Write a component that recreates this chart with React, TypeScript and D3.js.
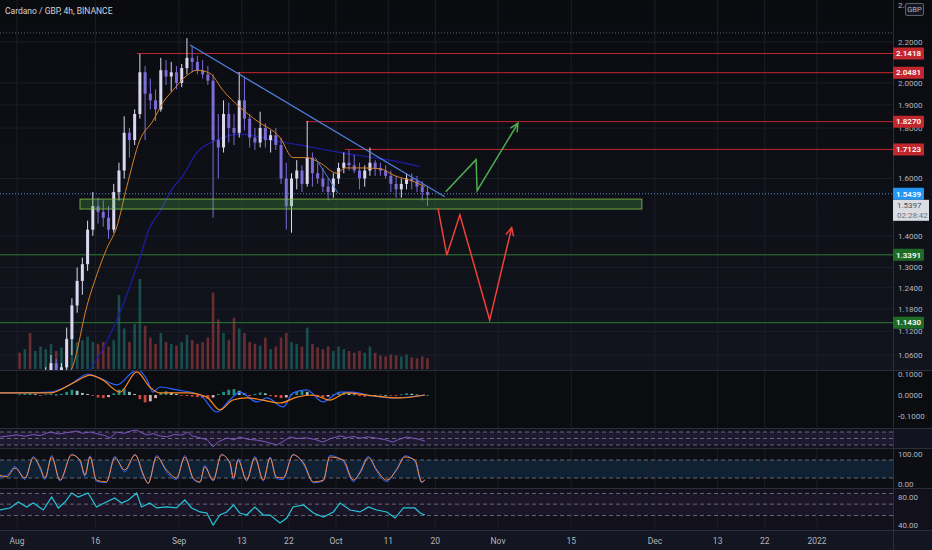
import React from "react";
import * as d3 from "d3";

const W = 932;
const H = 550;
const AXIS_X = 893;

const START = new Date(2021, 7, 1);
const END = new Date(2022, 0, 1);
const dayAt = (d: number) => new Date(START.getTime() + d * 864e5);

// x axis ticks
const TICK_DATES = [
  new Date(2021, 7, 1), new Date(2021, 7, 16), new Date(2021, 8, 1), new Date(2021, 8, 13),
  new Date(2021, 8, 22), new Date(2021, 9, 1), new Date(2021, 9, 11), new Date(2021, 9, 20),
  new Date(2021, 10, 1), new Date(2021, 10, 15), new Date(2021, 11, 1), new Date(2021, 11, 13),
  new Date(2021, 11, 22), new Date(2022, 0, 1),
];
const TICK_LABELS = ["Aug", "16", "Sep", "13", "22", "Oct", "11", "20", "Nov", "15", "Dec", "13", "22", "2022"];

const PRICE_TICKS = [2.2, 2.0, 1.9, 1.8, 1.6, 1.4, 1.3, 1.24, 1.18, 1.12, 1.06];
const TOP_TICK = 2.4;

// daily candles, Aug 1 .. Oct 18 2021
const OPEN = [0.95, 0.94, 0.95, 0.93, 0.98, 0.99, 1.02, 1.04, 1.01,
  1.03, 1.10, 1.19, 1.26, 1.31, 1.42,
  1.50, 1.48, 1.46, 1.42, 1.55, 1.63, 1.78, 1.75, 1.86, 2.05, 1.95, 1.92, 1.88, 2.06, 2.03, 2.05,
  2.00, 2.07, 2.12, 2.10, 2.06, 2.04, 2.01, 1.75, 1.72, 1.86, 1.80, 1.78, 1.92, 1.84, 1.76, 1.74, 1.80, 1.75, 1.77, 1.73, 1.60, 1.50, 1.60, 1.63, 1.58, 1.68, 1.62, 1.60, 1.57, 1.55,
  1.60, 1.64, 1.66, 1.65, 1.63, 1.60, 1.63, 1.66, 1.64, 1.63, 1.61, 1.58, 1.56, 1.58, 1.60, 1.59, 1.57, 1.55];
const HIGH = [0.98, 0.97, 0.97, 0.99, 1.00, 1.03, 1.06, 1.05, 1.04,
  1.13, 1.21, 1.30, 1.33, 1.45, 1.55,
  1.53, 1.52, 1.50, 1.58, 1.66, 1.85, 1.80, 1.88, 2.14, 2.08, 2.02, 1.97, 2.12, 2.11, 2.10, 2.08,
  2.09, 2.22, 2.18, 2.13, 2.11, 2.08, 2.04, 1.86, 1.92, 1.91, 1.86, 2.05, 2.03, 1.86, 1.80, 1.87, 1.82, 1.79, 1.80, 1.76, 1.66, 1.62, 1.67, 1.65, 1.83, 1.70, 1.66, 1.64, 1.60, 1.62,
  1.66, 1.70, 1.71, 1.69, 1.66, 1.65, 1.72, 1.67, 1.66, 1.65, 1.63, 1.61, 1.60, 1.62, 1.62, 1.61, 1.59, 1.57];
const LOW = [0.92, 0.92, 0.91, 0.92, 0.94, 0.97, 1.00, 0.99, 0.98,
  1.02, 1.06, 1.17, 1.22, 1.29, 1.40,
  1.44, 1.43, 1.39, 1.41, 1.52, 1.60, 1.68, 1.73, 1.84, 1.75, 1.88, 1.83, 1.87, 1.99, 1.96, 1.97,
  1.98, 2.04, 2.05, 2.04, 2.02, 1.99, 1.46, 1.60, 1.70, 1.74, 1.73, 1.76, 1.79, 1.72, 1.71, 1.72, 1.72, 1.70, 1.71, 1.58, 1.42, 1.41, 1.56, 1.55, 1.57, 1.57, 1.58, 1.55, 1.52, 1.53,
  1.58, 1.62, 1.63, 1.62, 1.56, 1.57, 1.61, 1.61, 1.61, 1.60, 1.55, 1.53, 1.53, 1.56, 1.56, 1.55, 1.52, 1.50];
const CLOSE = [0.94, 0.95, 0.93, 0.98, 0.99, 1.02, 1.04, 1.01, 1.03,
  1.10, 1.19, 1.26, 1.31, 1.42, 1.50,
  1.48, 1.46, 1.42, 1.55, 1.63, 1.78, 1.75, 1.86, 2.05, 1.95, 1.92, 1.88, 2.06, 2.03, 2.05, 2.00,
  2.07, 2.12, 2.10, 2.06, 2.04, 2.01, 1.75, 1.72, 1.86, 1.80, 1.78, 1.92, 1.84, 1.76, 1.74, 1.80, 1.75, 1.77, 1.73, 1.60, 1.50, 1.60, 1.63, 1.58, 1.68, 1.62, 1.60, 1.57, 1.55, 1.60,
  1.64, 1.66, 1.65, 1.63, 1.60, 1.63, 1.66, 1.64, 1.63, 1.61, 1.58, 1.56, 1.58, 1.60, 1.59, 1.57, 1.55, 1.54];
const VOLUME = [18, 22, 40, 20, 25, 22, 28, 20, 24,
  35, 38, 30, 32, 36, 30,
  28, 30, 25, 32, 82, 45, 30, 50, 100, 48, 35, 28, 40, 30, 28, 26,
  30, 38, 32, 28, 30, 35, 85, 55, 40, 32, 57, 45, 40, 30, 28, 26, 35, 22, 25, 35, 40, 30, 28, 25, 46, 28, 24, 22, 25, 20,
  25, 22, 20, 18, 20, 18, 25, 18, 15, 14, 16, 15, 14, 16, 13, 12, 14, 12];

// moving averages (day offset from Aug 1, price)
const EMA_DAYS = [9.0, 10.7, 13.4, 15.3, 17.2, 19.1, 21.0, 23.5, 26.0, 27.9, 29.8, 32.5, 34.4, 36.9, 39.4, 42.6, 45.9, 50.3, 52.8, 55.4, 57.9, 61.2, 62.7, 65.6, 69.4, 72.3, 75.7, 78.0];
const EMA_VALUES = [1.0, 1.034, 1.19, 1.28, 1.36, 1.43, 1.57, 1.75, 1.83, 1.91, 1.965, 2.035, 2.06, 2.045, 1.965, 1.89, 1.83, 1.76, 1.68, 1.68, 1.66, 1.62, 1.64, 1.64, 1.637, 1.61, 1.59, 1.57];
const MA_DAYS = [12.0, 14.0, 15.3, 19.1, 23.5, 25.4, 27.3, 29.8, 31.7, 34.4, 38.2, 42.6, 45.9, 48.9, 54.1, 61.8, 68.1, 72.7, 77.1];
const MA_VALUES = [0.98, 1.025, 1.05, 1.15, 1.33, 1.427, 1.48, 1.565, 1.61, 1.70, 1.75, 1.775, 1.765, 1.75, 1.73, 1.70, 1.68, 1.665, 1.645];

// drawings
const RES_LEVELS = [2.1418, 2.0481, 1.827, 1.7123];
const RES_START = [22.95, 41.9, 55.3, 62.7];
const SUP_LEVELS = [1.3391, 1.143];
const LAST_PRICE = 1.5439;
const BAR_CLOSE = 1.5397;
const COUNTDOWN = "02:28:42";
const HIGH_MARK = 2.247;
const ZONE_DAYS = [12.05, 119.5];
const ZONE_PRICES = [1.525, 1.49];
const TREND_DAYS = [33.1, 81.8];
const TREND_PRICES = [2.185, 1.533];
const MINI_TREND_DAYS = [57.0, 61.4];
const MINI_TREND_PRICES = [1.68, 1.547];
const GREEN_PATH_DAYS = [82.0, 87.8, 88.0, 95.8];
const GREEN_PATH_PRICES = [1.551, 1.672, 1.555, 1.82];
const RED_PATH_DAYS = [80.5, 82.2, 84.7, 90.4, 94.6];
const RED_PATH_PRICES = [1.494, 1.338, 1.47, 1.15, 1.427];

// MACD
const MACD_DAYS = [-3.25, 6.3, 10.1, 13.6, 15.9, 19.1, 22.2, 23.1, 24.9, 26.0, 27.3, 30.6, 35.0, 38.2, 40.7, 42.6, 45.9, 47.8, 50.9, 52.8, 55.4, 58.5, 61.8, 64.2, 66.9, 71.9, 78.0];
const MACD_VALUES = [0.01, 0.014, 0.048, 0.1, 0.081, 0.048, 0.11, 0.119, 0.071, 0.014, 0.038, 0.024, 0.0, -0.081, -0.024, 0.014, -0.033, -0.014, -0.057, 0.01, 0.024, -0.033, 0.014, 0.014, 0.0, -0.014, 0.0];
const SIGNAL_DAYS = [-3.25, 6.3, 10.7, 14.0, 16.4, 19.7, 22.9, 25.4, 27.3, 32.5, 36.3, 38.8, 41.3, 44.0, 47.0, 50.3, 53.5, 56.6, 59.8, 63.1, 66.9, 73.2, 78.0];
const SIGNAL_VALUES = [0.01, 0.01, 0.057, 0.095, 0.071, 0.014, 0.11, 0.038, 0.01, 0.01, -0.01, -0.071, -0.024, -0.014, -0.024, -0.038, -0.01, 0.0, -0.024, 0.01, 0.0, -0.014, 0.0];
const HIST = [0.003, 0.005, 0.008, 0.004, -0.002, 0.003, 0.006, 0.002, 0.005,
  0.015, 0.025, 0.02, 0.01, 0.005, -0.003,
  -0.012, -0.015, -0.01, 0.008, 0.025, 0.03, 0.015, 0.005, -0.02, -0.035, -0.03, -0.015, 0.01, 0.018, 0.012, 0.005,
  -0.003, -0.005, -0.008, -0.01, -0.015, -0.018, -0.012, 0.005, 0.015, 0.025, 0.028, 0.02, 0.008, -0.005, 0.005, 0.012, 0.008, -0.005, -0.01, -0.015, -0.012, 0.005, 0.018, 0.022, 0.015, -0.005, -0.01, -0.012, -0.008, 0.003,
  0.01, 0.012, 0.008, 0.003, -0.005, -0.008, -0.006, -0.003, 0.002, 0.0, -0.003, -0.004, 0.003, 0.008, 0.006, 0.002, -0.002, 0.0];

// RSI (purple)
const RSI_DAYS = [-3.2, -1.5, 0, 1.5, 3, 4.5, 6.3, 8, 9.5, 11.5, 12.5, 14, 15.5, 17, 17.8, 19.1, 20.5, 22, 22.9, 24, 24.9, 26, 27.3, 28.7, 30, 31.7, 32.6, 33.5, 35, 36.4, 37.5, 38.5, 40.2, 41.5, 42.6, 44, 45.9, 47.5, 49.7, 51, 52.2, 53.5, 55.4, 57, 58.5, 60, 61.8, 63, 64.5, 65.6, 67, 68.8, 70.5, 71.9, 73, 74.6, 76, 77, 78];
const RSI_VALUES = [55, 58, 61, 57, 62, 59, 70, 64, 68, 73, 66, 70, 64, 58, 51, 70, 66, 74, 76, 66, 61, 65, 58, 55, 62, 61, 70, 58, 52, 46, 24, 40, 52, 46, 55, 48, 45, 40, 30, 42, 55, 50, 52, 47, 39, 50, 58, 53, 56, 51, 55, 51, 46, 39, 47, 55, 50, 47, 42];

// Stochastic
const STOCH_DAYS = [-3.25, -1.98, -0.38, 1.53, 3.12, 4.4, 5.35, 6.63, 8.22, 10.45, 12.05, 13.0, 13.96, 15.2, 17.1, 18.7, 20.6, 22.6, 24.2, 25.1, 26.7, 28.6, 30.5, 32.1, 33.7, 35.0, 35.9, 37.5, 39.1, 40.7, 41.4, 42.3, 43.9, 45.5, 47.1, 48.4, 49.6, 50.9, 52.8, 54.8, 56.7, 58.6, 59.8, 62.4, 64.3, 65.6, 67.2, 68.8, 70.7, 72.6, 74.2, 76.1, 77.4, 78.0];
const STOCH_D = [30, 24, 53, 20, 87, 57, 20, 90, 13, 97, 80, 30, 90, 13, 7, 87, 47, 97, 30, 3, 90, 47, 20, 90, 20, 7, 57, 13, 97, 73, 20, 80, 13, 87, 13, 87, 23, 20, 97, 70, 7, 13, 90, 80, 13, 37, 87, 47, 13, 47, 90, 80, 7, 13];
const STOCH_K = [25, 28, 58, 15, 92, 50, 15, 95, 10, 99, 75, 25, 94, 8, 5, 92, 40, 99, 25, 2, 95, 40, 15, 95, 15, 5, 62, 10, 99, 68, 15, 85, 10, 92, 10, 90, 18, 15, 99, 65, 4, 10, 95, 75, 8, 42, 92, 42, 8, 50, 94, 75, 4, 15];

// bottom oscillator (cyan)
const CYAN_DAYS = [-3.25, -1.34, 0.25, 1.85, 3.12, 5.03, 6.63, 7.9, 9.18, 10.45, 11.7, 13.6, 15.2, 17.1, 18.7, 20.0, 21.3, 22.9, 23.8, 25.4, 26.7, 28.6, 30.5, 32.1, 33.4, 35.0, 36.3, 37.5, 38.8, 40.1, 41.4, 42.6, 43.9, 45.5, 47.1, 48.4, 50.3, 51.6, 52.8, 54.8, 56.7, 58.6, 60.5, 61.8, 63.7, 65.6, 67.2, 68.8, 70.7, 72.3, 73.9, 76.1, 77.1, 78.0];
const CYAN_VALUES = [61.8, 64.6, 73, 66, 71.6, 61.8, 80, 64.6, 73, 85.6, 80, 85.6, 66, 73, 78.6, 71.6, 75.8, 85.6, 66, 71.6, 64.6, 66, 64.6, 75.8, 64.6, 59, 57.5, 40.7, 54.7, 59, 68.8, 57.5, 54.7, 66, 54.7, 54.7, 43.5, 50.5, 66, 68.8, 57.5, 51.9, 59, 71.6, 61.8, 59, 66, 61.8, 59, 50.5, 64.6, 64.6, 57.5, 54.7];
const CYAN_BANDS = [85, 70, 54];

const FONT = "Roboto, 'DejaVu Sans', sans-serif";
const UP = "#dcd8f0";
const DOWN = "#7d6bd8";

const arrowHead = (pts: [number, number][], len = 9) => {
  const [x1, y1] = pts[pts.length - 2];
  const [x2, y2] = pts[pts.length - 1];
  const a = Math.atan2(y2 - y1, x2 - x1);
  const p1 = [x2 - len * Math.cos(a - 0.45), y2 - len * Math.sin(a - 0.45)];
  const p2 = [x2 - len * Math.cos(a + 0.45), y2 - len * Math.sin(a + 0.45)];
  return `M${p1[0]},${p1[1]}L${x2},${y2}L${p2[0]},${p2[1]}`;
};

const App = () => {
  const x = d3.scaleTime().domain([START, END]).range([17, 817]);
  const xd = (d: number) => x(dayAt(d));
  const y = d3.scaleLog().domain([1.06, 2.2]).range([355, 42]);
  const yVol = d3.scaleLinear().domain([0, 100]).range([369, 279]);
  const yMacd = d3.scaleLinear().domain([-0.1, 0.1]).range([416, 374]);
  const yRsi = d3.scaleLinear().domain([30, 70]).range([445, 432]);
  const yStoch = d3.scaleLinear().domain([0, 100]).range([484, 454]);
  const yCyan = d3.scaleLinear().domain([40, 80]).range([525.5, 497]);

  const series = (days: number[], vals: number[], sy: (v: number) => number, curve: d3.CurveFactory = d3.curveLinear) =>
    d3.line<number>().x((_, i) => xd(days[i])).y((v) => sy(v)).curve(curve)(vals) || "";

  const greenPts = GREEN_PATH_DAYS.map((d, i) => [xd(d), y(GREEN_PATH_PRICES[i])] as [number, number]);
  const redPts = RED_PATH_DAYS.map((d, i) => [xd(d), y(RED_PATH_PRICES[i])] as [number, number]);
  const poly = d3.line();

  const grid = "#1b1e29";
  const label = "#b2b5be";

  const priceBox = (p: number, fill: string, key: string) => (
    <g key={key}>
      <rect x={AXIS_X} y={y(p) - 6} width={31} height={12} fill={fill} rx={1} />
      <text x={AXIS_X + 15.5} y={y(p)} dy="0.35em" textAnchor="middle" fill="#fff" fontSize={8} fontWeight={600}>
        {p.toFixed(4)}
      </text>
    </g>
  );

  return (
    <svg width={W} height={H} style={{ position: "fixed", left: 0, top: 0, fontFamily: FONT }}>
      <defs>
        <linearGradient id="bg" x1="0" y1="0" x2="0" y2="1">
          <stop offset="0" stopColor="#0a0b0f" />
          <stop offset="1" stopColor="#161925" />
        </linearGradient>
        <clipPath id="main"><rect x={0} y={0} width={AXIS_X} height={370} /></clipPath>
        <clipPath id="macd"><rect x={0} y={371} width={AXIS_X} height={57} /></clipPath>
        <clipPath id="toptick"><rect x={AXIS_X} y={0} width={12} height={20} /></clipPath>
      </defs>
      <rect width={W} height={H} fill="url(#bg)" />
      <rect x={0} y={370} width={W} height={59} fill="#0b0c10" />
      <rect x={0} y={429} width={W} height={20} fill="#131220" />
      <rect x={0} y={449} width={W} height={40} fill="#0c0e14" />
      <rect x={0} y={489} width={W} height={41} fill="#12111b" />
      <rect x={0} y={530} width={W} height={20} fill="#131620" />

      {/* bands */}
      <rect x={0} y={yRsi(70)} width={AXIS_X} height={yRsi(30) - yRsi(70)} fill="#7e57c2" opacity={0.1} />
      <rect x={0} y={yStoch(80)} width={AXIS_X} height={yStoch(20) - yStoch(80)} fill="#2196f3" opacity={0.14} />
      <rect x={0} y={yCyan(CYAN_BANDS[0])} width={AXIS_X} height={yCyan(CYAN_BANDS[2]) - yCyan(CYAN_BANDS[0])} fill="#7e57c2" opacity={0.08} />

      {/* grid */}
      {TICK_DATES.map((t, i) => (
        <line key={i} x1={x(t)} x2={x(t)} y1={0} y2={530} stroke={grid} strokeWidth={1} />
      ))}
      {PRICE_TICKS.map((p) => (
        <line key={p} x1={0} x2={AXIS_X} y1={y(p)} y2={y(p)} stroke={grid} />
      ))}

      {/* pane separators */}
      {[370.5, 428.5, 448.5, 488.5, 530.5].map((v) => (
        <line key={v} x1={0} x2={W} y1={v} y2={v} stroke="#2a2e39" />
      ))}
      <line x1={AXIS_X + 0.5} x2={AXIS_X + 0.5} y1={0} y2={H} stroke="#2a2e39" />

      <g clipPath="url(#main)">
        {/* volume */}
        {VOLUME.map((v, i) => (
          <rect key={i} x={xd(i + 0.5) - 1.3} y={yVol(v)} width={2.6} height={yVol(0) - yVol(v)}
            fill={CLOSE[i] >= OPEN[i] ? "#26a69a" : "#ef5350"} opacity={0.4} />
        ))}

        {/* levels */}
        <line x1={0} x2={AXIS_X} y1={y(HIGH_MARK)} y2={y(HIGH_MARK)} stroke="#5d606b" strokeDasharray="1,2" />
        <line x1={0} x2={AXIS_X} y1={y(LAST_PRICE)} y2={y(LAST_PRICE)} stroke="#5b8fd9" strokeDasharray="1,2" />
        {RES_LEVELS.map((p, i) => (
          <line key={p} x1={xd(RES_START[i])} x2={AXIS_X} y1={y(p)} y2={y(p)} stroke="#c0262e" strokeWidth={1} />
        ))}
        {SUP_LEVELS.map((p) => (
          <line key={p} x1={0} x2={AXIS_X} y1={y(p)} y2={y(p)} stroke="#2f7d32" strokeWidth={1} />
        ))}

        {/* moving averages */}
        <path d={series(MA_DAYS, MA_VALUES, y, d3.curveMonotoneX)} fill="none" stroke="#1c1c96" strokeWidth={1.4} />

        {/* candles */}
        {OPEN.map((o, i) => {
          const c = CLOSE[i];
          const cx = xd(i + 0.5);
          const col = c >= o ? UP : DOWN;
          const top = y(Math.max(o, c));
          const h = Math.max(1, y(Math.min(o, c)) - top);
          return (
            <g key={i}>
              <line x1={cx} x2={cx} y1={y(HIGH[i])} y2={y(LOW[i])} stroke={col} strokeWidth={1} />
              <rect x={cx - 1.5} y={top} width={3} height={h} fill={col} />
            </g>
          );
        })}

        <path d={series(EMA_DAYS, EMA_VALUES, y, d3.curveMonotoneX)} fill="none" stroke="#d9822b" strokeWidth={1} />

        {/* zone */}
        <rect x={xd(ZONE_DAYS[0])} y={y(ZONE_PRICES[0])} width={xd(ZONE_DAYS[1]) - xd(ZONE_DAYS[0])}
          height={y(ZONE_PRICES[1]) - y(ZONE_PRICES[0])} fill="#4caf50" fillOpacity={0.28} stroke="#8bc34a" strokeOpacity={0.8} />

        {/* trendlines */}
        <path d={series(TREND_DAYS, TREND_PRICES, y)} stroke="#4b82e0" strokeWidth={1.2} fill="none" />
        <path d={series(MINI_TREND_DAYS, MINI_TREND_PRICES, y)} stroke="#4b82e0" strokeWidth={1} fill="none" />

        {/* scenario arrows */}
        <path d={poly(greenPts) || ""} stroke="#4caf50" strokeWidth={1.5} fill="none" />
        <path d={arrowHead(greenPts)} stroke="#4caf50" strokeWidth={1.5} fill="none" />
        <path d={poly(redPts) || ""} stroke="#f23f3a" strokeWidth={1.5} fill="none" />
        <path d={arrowHead(redPts)} stroke="#f23f3a" strokeWidth={1.5} fill="none" />
      </g>

      {/* MACD pane */}
      <g clipPath="url(#macd)">
        {HIST.map((v, i) => {
          const prev = i > 0 ? HIST[i - 1] : 0;
          const col = v >= 0 ? (v >= prev ? "#26a69a" : "#b2dfdb") : (v < prev ? "#ef5350" : "#ffcdd2");
          return (
            <rect key={i} x={xd(i + 0.5) - 1.4} y={Math.min(yMacd(v), yMacd(0))} width={2.8}
              height={Math.max(0.8, Math.abs(yMacd(v) - yMacd(0)))} fill={col} opacity={0.85} />
          );
        })}
        <path d={series(MACD_DAYS, MACD_VALUES, yMacd, d3.curveMonotoneX)} fill="none" stroke="#2962ff" strokeWidth={1.2} />
        <path d={series(SIGNAL_DAYS, SIGNAL_VALUES, yMacd, d3.curveMonotoneX)} fill="none" stroke="#ff8a1d" strokeWidth={1.2} />
      </g>

      {/* RSI pane */}
      {[70, 50, 30].map((v) => (
        <line key={v} x1={0} x2={AXIS_X} y1={yRsi(v)} y2={yRsi(v)} stroke="#787b86" strokeDasharray="4,3" strokeWidth={0.8} />
      ))}
      <path d={series(RSI_DAYS, RSI_VALUES, yRsi)} fill="none" stroke="#7e57c2" strokeWidth={1} />

      {/* Stoch pane */}
      {[80, 20].map((v) => (
        <line key={v} x1={0} x2={AXIS_X} y1={yStoch(v)} y2={yStoch(v)} stroke="#787b86" strokeDasharray="4,3" strokeWidth={0.8} />
      ))}
      <path d={series(STOCH_DAYS, STOCH_K, yStoch, d3.curveMonotoneX)} fill="none" stroke="#2962ff" strokeWidth={1} />
      <path d={series(STOCH_DAYS, STOCH_D, yStoch, d3.curveMonotoneX)} fill="none" stroke="#ff8a3d" strokeWidth={1} />

      {/* Cyan pane */}
      {CYAN_BANDS.map((v) => (
        <line key={v} x1={0} x2={AXIS_X} y1={yCyan(v)} y2={yCyan(v)} stroke="#787b86" strokeDasharray="4,3" strokeWidth={0.8} />
      ))}
      <path d={series(CYAN_DAYS, CYAN_VALUES, yCyan)} fill="none" stroke="#26c6da" strokeWidth={1.2} />

      {/* x axis labels */}
      {TICK_DATES.map((t, i) => (
        <text key={i} x={x(t)} y={541} dy="0.35em" textAnchor="middle" fill={label} fontSize={8.5}>
          {TICK_LABELS[i]}
        </text>
      ))}

      {/* price axis */}
      {PRICE_TICKS.map((p) => (
        <text key={p} x={898} y={y(p)} dy="0.35em" fill={label} fontSize={8}>
          {p.toFixed(4)}
        </text>
      ))}
      <g clipPath="url(#toptick)">
        <text x={898} y={y(TOP_TICK)} dy="0.35em" fill={label} fontSize={8}>{TOP_TICK.toFixed(4)}</text>
      </g>
      <rect x={905.5} y={3.5} width={18} height={12} fill="#131722" stroke="#5d606b" rx={1.5} />
      <text x={914.5} y={9.5} dy="0.35em" textAnchor="middle" fill={label} fontSize={7.5}>GBP</text>

      {RES_LEVELS.map((p) => priceBox(p, "#c2272d", `r${p}`))}
      {SUP_LEVELS.map((p) => priceBox(p, "#1e6b25", `s${p}`))}
      {priceBox(LAST_PRICE, "#2196f3", "last")}
      <rect x={AXIS_X} y={y(LAST_PRICE) + 6} width={36} height={21} fill="#dcdde2" />
      <text x={AXIS_X + 4} y={y(LAST_PRICE) + 11.5} dy="0.35em" fill="#4a4e59" fontSize={8}>{BAR_CLOSE.toFixed(4)}</text>
      <text x={AXIS_X + 4} y={y(LAST_PRICE) + 21.5} dy="0.35em" fill="#6a6e79" fontSize={8}>{COUNTDOWN}</text>

      {/* sub-pane scales */}
      {[0.1, 0, -0.1].map((v) => (
        <text key={v} x={898} y={yMacd(v)} dy="0.35em" fill={label} fontSize={8}>{v.toFixed(4)}</text>
      ))}
      {[100, 0].map((v) => (
        <text key={v} x={898} y={yStoch(v)} dy="0.35em" fill={label} fontSize={8}>{v.toFixed(2)}</text>
      ))}
      {[80, 40].map((v) => (
        <text key={v} x={898} y={yCyan(v)} dy="0.35em" fill={label} fontSize={8}>{v.toFixed(2)}</text>
      ))}

      <text x={5} y={11.5} dy="0.35em" fill="#d1d4dc" fontSize={8.5}>Cardano / GBP, 4h, BINANCE</text>
    </svg>
  );
};

export default App;
